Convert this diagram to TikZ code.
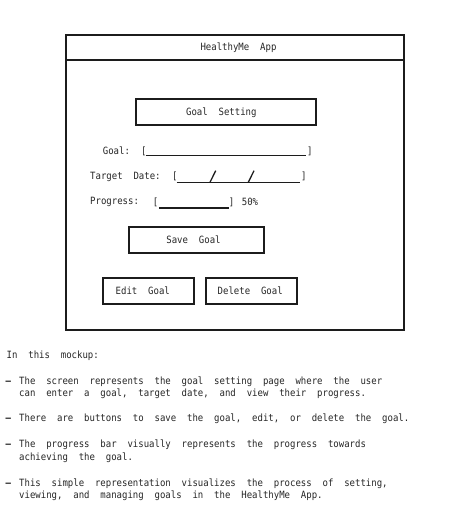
\documentclass[tikz,border=0pt]{standalone}
\usepackage{fontspec}
\newfontfamily\mono[WordSpace=2,FakeStretch=0.9]{DejaVu Sans Mono}
\definecolor{txt}{HTML}{262626}
\definecolor{ln}{HTML}{1C1C1C}
\tikzset{
  lbl/.style={font=\mono\fontsize{10}{12}\selectfont, text=txt, inner sep=0pt, text height=7.3pt, text depth=0pt},
  frame/.style={draw=ln, line width=1.8pt},
  btnbox/.style={draw=ln, line width=1.8pt, inner sep=0pt},
  field/.style={draw=ln, line width=1.3pt},
}
\begin{document}
\begin{tikzpicture}[x=1pt,y=-1pt]
\useasboundingbox (0,0) rectangle (464,519);
\fill[white] (0,0) rectangle (464,519);
% window
\node[frame, minimum width=338.3pt, minimum height=295pt, inner sep=0pt] (win) at (234.85,182.5) {};
\coordinate (divL) at (65.7,60);
\coordinate (divR) at (404,60);
\draw[frame] (divL) -- (divR);
\node[lbl] (title) at (238.5,47) {HealthyMe App};
% goal setting header
\node[btnbox, minimum width=180pt, minimum height=26pt] (gsbox) at (226,112) {};
\node[lbl] (gstext) at (221.3,111.5) {Goal Setting};
% goal field
\node[lbl, anchor=west] (goallbl) at (102.7,150.5) {Goal:};
\node[lbl] (goalL) at (143.8,150.5) {[};
\node[lbl] (goalR) at (309.8,150.5) {]};
\coordinate (g1) at (145.7,155.5);
\coordinate (g2) at (305.7,155.5);
\draw[field] (g1) -- (g2);
% target date
\node[lbl, anchor=west] (datelbl) at (90,175.5) {Target Date:};
\node[lbl] (dateL) at (174.8,175.5) {[};
\node[lbl] (dateR) at (303.8,175.5) {]};
\coordinate (d1) at (176.7,182.3);
\coordinate (d2) at (300,182.3);
\coordinate (s1a) at (210,182.3);
\coordinate (s1b) at (215.7,170.7);
\coordinate (s2a) at (248.3,182.3);
\coordinate (s2b) at (254,170.7);
\draw[field] (d1) -- (d2);
\draw[field] (s1a) -- (s1b);
\draw[field] (s2a) -- (s2b);
% progress
\node[lbl, anchor=west] (proglbl) at (90,201) {Progress:};
\node[lbl] (progL) at (155.5,201.5) {[};
\node[lbl] (progR) at (231.5,201.5) {]};
\coordinate (p1) at (158.8,208);
\coordinate (p2) at (229.3,208);
\draw[field] (p1) -- (p2);
\node[lbl] (pct) at (250,201.5) {50\%};
% buttons
\node[btnbox, minimum width=135pt, minimum height=26pt] (savebox) at (196.8,239.7) {};
\node[lbl] (savetext) at (193.5,239.5) {Save Goal};
\node[btnbox, minimum width=91pt, minimum height=26.6pt] (editbox) at (148.8,291) {};
\node[lbl, anchor=west] (edittext) at (115.5,290.5) {Edit Goal};
\node[btnbox, minimum width=91pt, minimum height=26.6pt] (delbox) at (251.2,291) {};
\node[lbl, anchor=west] (deltext) at (217.5,290.5) {Delete Goal};
% notes
\node[lbl, anchor=west] (intro) at (6.5,355) {In this mockup:};
\node[lbl, anchor=west] (b1) at (5.5,380.7) {\textbf{—}};
\node[lbl, anchor=west] (t1a) at (19,380.7) {The screen represents the goal setting page where the user};
\node[lbl, anchor=west] (t1b) at (19,393.3) {can enter a goal, target date, and view their progress.};
\node[lbl, anchor=west] (b2) at (5.5,418.3) {\textbf{—}};
\node[lbl, anchor=west] (t2a) at (19,418.3) {There are buttons to save the goal, edit, or delete the goal.};
\node[lbl, anchor=west] (b3) at (5.5,444.3) {\textbf{—}};
\node[lbl, anchor=west] (t3a) at (19,444.3) {The progress bar visually represents the progress towards};
\node[lbl, anchor=west] (t3b) at (19,457.3) {achieving the goal.};
\node[lbl, anchor=west] (b4) at (5.5,482.7) {\textbf{—}};
\node[lbl, anchor=west] (t4a) at (19,482.7) {This simple representation visualizes the process of setting,};
\node[lbl, anchor=west] (t4b) at (19,495.3) {viewing, and managing goals in the HealthyMe App.};
\end{tikzpicture}
\end{document}
